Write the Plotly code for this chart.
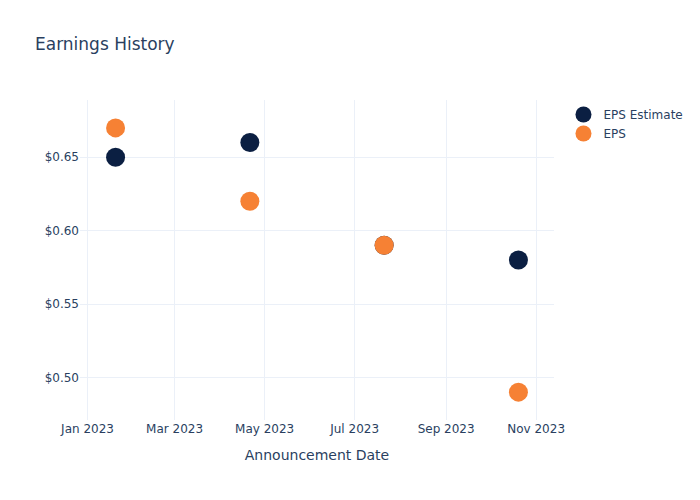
import plotly.graph_objects as go

dates = ["2023-01-20", "2023-04-21", "2023-07-21", "2023-10-20"]
eps_estimate = [0.65, 0.66, 0.59, 0.58]
eps_actual = [0.67, 0.62, 0.59, 0.49]

fig = go.Figure()
fig.add_trace(go.Scatter(x=dates, y=eps_estimate, mode="markers", name="EPS Estimate",
                         marker=dict(color="#0b1f42", size=19)))
fig.add_trace(go.Scatter(x=dates, y=eps_actual, mode="markers", name="EPS",
                         marker=dict(color="#f68134", size=19)))
fig.update_layout(
    template="plotly_white",
    width=700, height=500,
    font=dict(family="DejaVu Sans"),
    title=dict(text="Earnings History"),
    xaxis=dict(title=dict(text="Announcement Date")),
    yaxis=dict(tickprefix="$", tickformat=".2f"),
)
fig.write_html("out.html")
